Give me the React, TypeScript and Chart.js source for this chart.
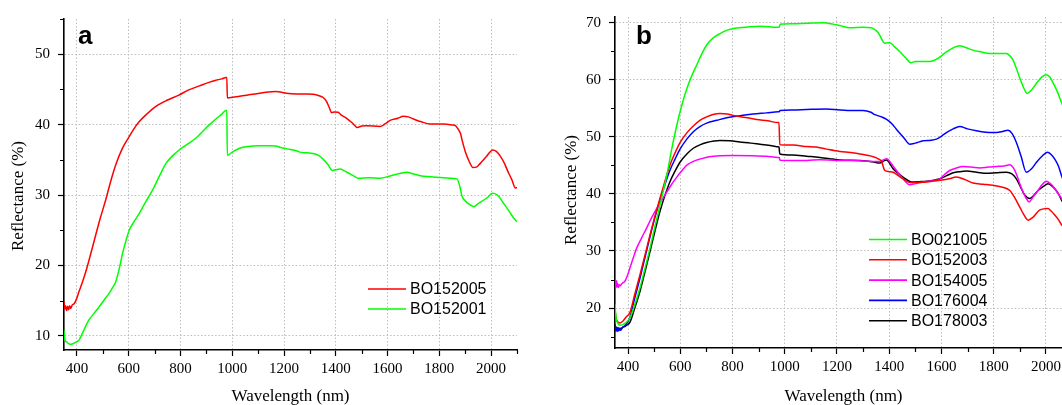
import React, { useEffect, useRef } from 'react';
import { Chart, registerables } from 'chart.js';

Chart.register(...registerables);

const SERIF = "'Liberation Serif', 'Times New Roman', serif";
const SANS = "'Liberation Sans', Arial, sans-serif";

// ---------- axis ticks ----------
const xTickValues = [400, 500, 600, 700, 800, 900, 1000, 1100, 1200, 1300, 1400, 1500, 1600, 1700, 1800, 1900, 2000, 2100];
const xTickLabels = [400, 600, 800, 1000, 1200, 1400, 1600, 1800, 2000];
const yTickValuesA = [10, 15, 20, 25, 30, 35, 40, 45, 50, 55];
const yTickLabelsA = [10, 20, 30, 40, 50];
const yTickValuesB = [15, 20, 25, 30, 35, 40, 45, 50, 55, 60, 65, 70];
const yTickLabelsB = [20, 30, 40, 50, 60, 70];

// ---------- panel a ----------
const namesA = ['BO152005', 'BO152001'];
const colorsA = ['#ff0000', '#00ff00'];

const wlA1 = [350, 353, 356, 360, 364, 368, 372, 376, 382, 390, 400, 408, 420, 434, 450, 473, 490, 511, 530, 550, 575, 602, 620, 640, 670, 705, 750, 794, 830, 873, 910, 937, 960, 976, 979, 981, 1002, 1040, 1080, 1130, 1170, 1190, 1209, 1248, 1290, 1312, 1335, 1351, 1364, 1375, 1384, 1395, 1409, 1420, 1442, 1465, 1483, 1500, 1519, 1571, 1590, 1610, 1640, 1661, 1680, 1700, 1730, 1765, 1817, 1850, 1862, 1872, 1881, 1890, 1900, 1915, 1930, 1945, 1958, 1980, 2007, 2020, 2036, 2050, 2068, 2080, 2094, 2100];
const refA1 = [14.9, 13.8, 14.3, 13.6, 14.2, 13.7, 14.3, 13.9, 14.4, 14.6, 15.4, 16.3, 17.5, 19.1, 21.2, 24.4, 26.7, 29.3, 31.9, 34.3, 36.6, 38.3, 39.4, 40.4, 41.5, 42.6, 43.5, 44.2, 44.9, 45.5, 46.0, 46.3, 46.5, 46.7, 46.7, 43.8, 43.9, 44.1, 44.3, 44.6, 44.7, 44.6, 44.45, 44.35, 44.35, 44.3, 44.1, 43.85, 43.3, 42.4, 41.7, 41.8, 41.75, 41.4, 40.9, 40.2, 39.6, 39.8, 39.85, 39.75, 40.1, 40.6, 40.9, 41.2, 41.1, 40.8, 40.4, 40.1, 40.1, 39.95, 39.85, 39.4, 38.8, 37.5, 36.2, 34.8, 33.9, 34.0, 34.5, 35.4, 36.4, 36.2, 35.5, 34.6, 33.1, 32.2, 31.0, 31.1];

const wlA2 = [350, 352, 355, 358, 362, 367, 372, 377, 382, 390, 400, 408, 420, 447, 466, 486, 505, 524, 540, 550, 565, 576, 590, 602, 620, 641, 665, 692, 720, 744, 770, 795, 830, 860, 890, 912, 940, 960, 976, 979, 981, 1000, 1028, 1060, 1106, 1140, 1170, 1183, 1220, 1248, 1261, 1290, 1312, 1335, 1351, 1370, 1386, 1400, 1416, 1435, 1455, 1470, 1487, 1530, 1571, 1600, 1623, 1650, 1674, 1700, 1726, 1765, 1804, 1840, 1868, 1878, 1888, 1900, 1915, 1933, 1950, 1972, 1990, 2004, 2015, 2030, 2045, 2062, 2075, 2090, 2100];
const refA2 = [10.8, 9.8, 9.3, 9.2, 9.1, 8.9, 8.85, 8.8, 8.85, 9.0, 9.2, 9.4, 10.3, 12.3, 13.2, 14.15, 15.1, 16.05, 17.0, 17.7, 19.8, 21.7, 23.6, 25.0, 26.2, 27.4, 29.0, 30.7, 32.8, 34.5, 35.6, 36.4, 37.3, 38.1, 39.2, 40.0, 40.9, 41.5, 42.0, 42.0, 35.65, 36.1, 36.65, 36.9, 37.0, 37.0, 36.95, 36.8, 36.5, 36.3, 36.1, 36.0, 35.9, 35.6, 35.1, 34.3, 33.5, 33.6, 33.7, 33.4, 33.0, 32.7, 32.4, 32.45, 32.4, 32.6, 32.85, 33.1, 33.25, 33.0, 32.75, 32.6, 32.5, 32.4, 32.3, 31.4, 29.8, 29.2, 28.7, 28.35, 28.8, 29.3, 29.8, 30.25, 30.2, 29.8, 29.0, 28.1, 27.4, 26.6, 26.2];

// ---------- panel b ----------
const namesB = ['BO021005', 'BO152003', 'BO154005', 'BO176004', 'BO178003'];
const colorsB = ['#00ff00', '#ff0000', '#ff00ff', '#0000ff', '#000000'];

const wlB1 = [350, 352, 355, 360, 365, 370, 380, 390, 407, 425, 446, 465, 484, 503, 522, 548, 567, 586, 605, 624, 643, 663, 682, 701, 725, 752, 780, 803, 850, 905, 943, 960, 979, 983, 1030, 1084, 1147, 1185, 1211, 1249, 1300, 1330, 1345, 1355, 1364, 1375, 1383, 1395, 1402, 1420, 1441, 1462, 1482, 1500, 1517, 1555, 1587, 1600, 1619, 1645, 1670, 1690, 1721, 1750, 1785, 1820, 1849, 1862, 1874, 1887, 1900, 1915, 1928, 1945, 1964, 1985, 2002, 2015, 2028, 2045, 2060, 2080, 2100];
const refB1 = [20.7, 19.2, 18.0, 17.4, 17.1, 17.0, 17.1, 17.4, 18.3, 20.5, 23.6, 27.0, 30.5, 34.3, 38.0, 43.2, 47.8, 51.9, 55.4, 58.3, 60.6, 62.6, 64.5, 66.1, 67.3, 68.1, 68.7, 69.0, 69.2, 69.4, 69.3, 69.2, 69.2, 69.75, 69.8, 69.9, 70.0, 69.75, 69.5, 69.1, 69.2, 69.1, 68.8, 68.4, 67.8, 66.8, 66.4, 66.5, 66.5, 65.8, 64.9, 63.9, 63.0, 63.2, 63.2, 63.2, 63.75, 64.2, 64.9, 65.6, 65.95, 65.7, 65.2, 64.9, 64.6, 64.6, 64.6, 64.2, 63.5, 62.0, 60.3, 58.6, 57.6, 58.2, 59.4, 60.5, 60.9, 60.5, 59.4, 57.8, 56.0, 53.8, 52.0];

const wlB2 = [350, 353, 357, 362, 370, 380, 392, 407, 425, 446, 465, 484, 503, 522, 541, 560, 580, 599, 625, 650, 675, 701, 725, 752, 780, 803, 850, 892, 935, 975, 978, 981, 1032, 1084, 1120, 1160, 1211, 1250, 1288, 1339, 1360, 1371, 1377, 1383, 1400, 1415, 1435, 1453, 1479, 1510, 1543, 1594, 1625, 1658, 1690, 1721, 1760, 1798, 1830, 1862, 1880, 1900, 1915, 1932, 1950, 1977, 2008, 2020, 2034, 2048, 2060, 2080, 2100];
const refB2 = [19.8, 18.5, 17.8, 17.5, 17.4, 17.7, 18.4, 19.2, 22.3, 25.9, 29.3, 32.8, 36.1, 39.2, 42.2, 45.0, 47.2, 49.0, 50.7, 51.9, 52.9, 53.5, 53.9, 54.1, 54.0, 53.75, 53.4, 53.05, 52.8, 52.5, 52.5, 48.6, 48.55, 48.3, 48.2, 47.85, 47.45, 47.25, 47.0, 46.5, 46.1, 45.7, 44.8, 44.1, 43.9, 43.8, 43.2, 42.65, 42.0, 42.05, 42.1, 42.4, 42.6, 42.95, 42.5, 41.9, 41.7, 41.5, 41.2, 40.6, 39.4, 37.7, 36.4, 35.4, 35.9, 37.2, 37.45, 37.0, 36.3, 35.5, 34.6, 33.6, 32.8];

const wlB3 = [350, 352, 354, 356, 358, 360, 363, 366, 370, 375, 380, 388, 397, 407, 420, 433, 452, 471, 490, 510, 529, 548, 567, 586, 605, 624, 650, 675, 710, 752, 800, 879, 930, 975, 979, 982, 1084, 1135, 1198, 1262, 1339, 1365, 1383, 1390, 1396, 1410, 1428, 1450, 1479, 1500, 1530, 1565, 1594, 1612, 1632, 1655, 1683, 1715, 1747, 1780, 1811, 1840, 1862, 1875, 1887, 1900, 1913, 1925, 1936, 1950, 1970, 1985, 2002, 2015, 2028, 2045, 2060, 2080, 2100];
const refB3 = [25.3, 24.2, 23.6, 24.8, 23.7, 24.3, 23.6, 24.1, 23.9, 24.2, 24.4, 24.7, 25.6, 27.0, 28.8, 30.5, 32.3, 34.0, 35.8, 37.45, 38.9, 40.3, 41.7, 42.9, 44.0, 45.0, 45.7, 46.1, 46.5, 46.7, 46.75, 46.7, 46.6, 46.4, 46.4, 45.9, 45.85, 46.0, 45.85, 45.85, 45.7, 45.7, 46.1, 46.15, 46.0, 45.2, 44.1, 42.8, 41.6, 41.8, 42.1, 42.3, 42.65, 43.4, 44.1, 44.5, 44.8, 44.7, 44.55, 44.7, 44.8, 44.9, 45.1, 44.6, 43.5, 41.8, 40.3, 39.2, 38.6, 39.4, 40.6, 41.6, 42.2, 41.9, 41.3, 40.2, 39.2, 37.9, 36.8];

const wlB4 = [350, 352, 355, 358, 361, 364, 368, 372, 377, 385, 395, 407, 425, 446, 465, 484, 503, 522, 541, 560, 580, 599, 625, 650, 675, 701, 740, 778, 830, 879, 930, 975, 979, 982, 1030, 1084, 1160, 1211, 1260, 1300, 1330, 1345, 1370, 1390, 1410, 1428, 1455, 1479, 1500, 1530, 1560, 1581, 1600, 1619, 1645, 1670, 1700, 1734, 1770, 1798, 1830, 1855, 1870, 1887, 1905, 1925, 1945, 1964, 1985, 2006, 2020, 2034, 2048, 2060, 2080, 2100];
const refB4 = [17.2, 16.0, 16.6, 15.9, 16.5, 16.0, 16.4, 16.1, 16.5, 16.8, 17.3, 18.4, 21.6, 25.3, 28.9, 32.5, 35.9, 38.9, 41.6, 44.1, 46.1, 47.85, 49.6, 50.9, 51.8, 52.4, 52.9, 53.35, 53.7, 54.0, 54.2, 54.4, 54.4, 54.6, 54.7, 54.8, 54.9, 54.7, 54.6, 54.6, 54.3, 53.9, 53.5, 53.05, 52.3, 51.3, 49.9, 48.7, 48.9, 49.3, 49.4, 49.6, 50.1, 50.75, 51.4, 51.8, 51.4, 51.05, 50.8, 50.75, 50.9, 51.15, 50.6, 49.0, 46.6, 43.8, 44.4, 45.55, 46.6, 47.3, 46.9, 46.1, 44.9, 43.2, 40.8, 38.8];

const wlB5 = [350, 352, 355, 358, 361, 365, 369, 373, 378, 385, 395, 407, 425, 446, 465, 484, 503, 522, 541, 560, 580, 599, 625, 650, 675, 701, 752, 790, 828, 870, 905, 950, 975, 978, 981, 1030, 1084, 1135, 1185, 1211, 1288, 1340, 1364, 1380, 1390, 1400, 1415, 1435, 1453, 1486, 1515, 1543, 1570, 1594, 1620, 1645, 1670, 1696, 1735, 1773, 1810, 1849, 1870, 1887, 1903, 1919, 1938, 1955, 1970, 1990, 2008, 2020, 2034, 2048, 2060, 2080, 2100];
const refB5 = [17.0, 16.2, 16.7, 16.0, 16.6, 16.1, 16.5, 16.2, 16.6, 16.7, 17.0, 17.5, 19.9, 23.0, 26.4, 29.9, 33.5, 36.9, 39.7, 42.1, 44.0, 45.55, 47.0, 48.0, 48.6, 49.0, 49.35, 49.3, 49.1, 48.9, 48.7, 48.45, 48.25, 48.2, 47.0, 46.8, 46.6, 46.4, 46.1, 45.95, 45.85, 45.6, 45.4, 45.8, 45.95, 45.5, 44.4, 43.6, 42.95, 42.1, 42.15, 42.2, 42.4, 42.65, 43.2, 43.7, 43.9, 44.0, 43.8, 43.6, 43.7, 43.8, 43.5, 42.65, 41.2, 39.8, 39.2, 39.8, 40.6, 41.3, 41.8, 41.5, 40.9, 40.0, 38.9, 37.4, 36.2];

type Series = { name: string; color: string; wl: number[]; refl: number[] };

const seriesA: Series[] = [
  { name: namesA[0], color: colorsA[0], wl: wlA1, refl: refA1 },
  { name: namesA[1], color: colorsA[1], wl: wlA2, refl: refA2 },
];
const seriesB: Series[] = [
  { name: namesB[0], color: colorsB[0], wl: wlB1, refl: refB1 },
  { name: namesB[1], color: colorsB[1], wl: wlB2, refl: refB2 },
  { name: namesB[2], color: colorsB[2], wl: wlB3, refl: refB3 },
  { name: namesB[3], color: colorsB[3], wl: wlB4, refl: refB4 },
  { name: namesB[4], color: colorsB[4], wl: wlB5, refl: refB5 },
];

type PanelSpec = {
  letter: string;
  series: Series[];
  yMin: number;
  yMax: number;
  yTicks: number[];
  yLabels: number[];
  canvasWidth: number;
  padTop: number;
  padRight: number;
  yAxisWidth: number;
  xAxisHeight: number;
  letterX: number;
  letterY: number;
  yTitleX: number;
  yTitleY: number;
  legendX: number;
  legendY: number;
  legendGap: number;
};

const panelA: PanelSpec = {
  letter: 'a', series: seriesA, yMin: 8, yMax: 55, yTicks: yTickValuesA, yLabels: yTickLabelsA,
  canvasWidth: 540, padTop: 19, padRight: 23, yAxisWidth: 64, xAxisHeight: 55,
  letterX: 78, letterY: 43.5, yTitleX: 18.5, yTitleY: 196,
  legendX: 368, legendY: 289, legendGap: 20,
};

const panelB: PanelSpec = {
  letter: 'b', series: seriesB, yMin: 13, yMax: 71, yTicks: yTickValuesB, yLabels: yTickLabelsB,
  canvasWidth: 560, padTop: 13, padRight: 28, yAxisWidth: 75, xAxisHeight: 57,
  letterX: 96, letterY: 44, yTitleX: 32, yTitleY: 190,
  legendX: 329, legendY: 239.5, legendGap: 20.3,
};

function overlayPlugin(p: PanelSpec) {
  return {
    id: 'overlay' + p.letter,
    afterDraw(chart: any) {
      const ctx = chart.ctx as CanvasRenderingContext2D;
      const area = chart.chartArea;
      const xs = chart.scales.x;
      const ys = chart.scales.y;
      ctx.save();

      // minor (unlabelled) tick marks, shorter than the major ones
      ctx.strokeStyle = '#000';
      ctx.lineWidth = 1.2;
      ctx.beginPath();
      xTickValues.forEach((v) => {
        if (xTickLabels.includes(v)) return;
        const px = Math.round(xs.getPixelForValue(v)) + 0.5;
        ctx.moveTo(px, area.bottom);
        ctx.lineTo(px, area.bottom + 4);
      });
      p.yTicks.forEach((v) => {
        if (p.yLabels.includes(v)) return;
        const py = Math.round(ys.getPixelForValue(v)) + 0.5;
        ctx.moveTo(area.left, py);
        ctx.lineTo(area.left - 4, py);
      });
      ctx.stroke();

      ctx.fillStyle = '#000';
      ctx.font = `bold 26px ${SANS}`;
      ctx.textAlign = 'left';
      ctx.textBaseline = 'alphabetic';
      ctx.fillText(p.letter, p.letterX, p.letterY);

      ctx.font = `17px ${SERIF}`;
      ctx.save();
      ctx.translate(p.yTitleX, p.yTitleY);
      ctx.rotate(-Math.PI / 2);
      ctx.textAlign = 'center';
      ctx.textBaseline = 'middle';
      ctx.fillText('Reflectance (%)', 0, 0);
      ctx.restore();

      ctx.textAlign = 'center';
      ctx.textBaseline = 'alphabetic';
      ctx.fillText('Wavelength (nm)', (area.left + area.right) / 2, 401);

      ctx.font = `16px ${SANS}`;
      ctx.textAlign = 'left';
      ctx.textBaseline = 'middle';
      chart.data.datasets.forEach((ds: any, i: number) => {
        const y = p.legendY + i * p.legendGap;
        ctx.strokeStyle = ds.borderColor;
        ctx.lineWidth = 1.6;
        ctx.beginPath();
        ctx.moveTo(p.legendX, y);
        ctx.lineTo(p.legendX + 38, y);
        ctx.stroke();
        ctx.fillStyle = '#000';
        ctx.fillText(ds.label, p.legendX + 42, y + 1);
      });
      ctx.restore();
    },
  };
}

function buildConfig(p: PanelSpec): any {
  const gridColor = (labels: number[]) => (c: any) =>
    c.tick && labels.includes(c.tick.value) ? '#bdbdbd' : 'rgba(0,0,0,0)';
  const tickColor = (labels: number[]) => (c: any) =>
    c.tick && labels.includes(c.tick.value) ? '#000' : 'rgba(0,0,0,0)';
  return {
    type: 'line',
    data: {
      datasets: p.series.map((s) => ({
        label: s.name,
        data: s.wl.map((x, i) => ({ x, y: s.refl[i] })),
        borderColor: s.color,
        backgroundColor: s.color,
        borderWidth: 1.5,
        pointRadius: 0,
        cubicInterpolationMode: 'monotone',
        fill: false,
      })),
    },
    options: {
      animation: false,
      responsive: false,
      devicePixelRatio: 1,
      layout: { padding: { top: p.padTop, right: p.padRight, bottom: 0, left: 0 } },
      plugins: { legend: { display: false }, tooltip: { enabled: false } },
      scales: {
        x: {
          type: 'linear',
          min: 350,
          max: 2100,
          afterBuildTicks: (scale: any) => {
            scale.ticks = xTickValues.map((v) => ({ value: v }));
          },
          afterFit: (scale: any) => {
            scale.height = p.xAxisHeight;
          },
          ticks: {
            autoSkip: false,
            maxRotation: 0,
            padding: 4,
            color: '#000',
            font: { family: SERIF, size: 15 },
            callback: (v: any) => (xTickLabels.includes(Number(v)) ? String(v) : ''),
          },
          grid: {
            color: gridColor(xTickLabels),
            lineWidth: 1,
            tickColor: tickColor(xTickLabels),
            tickLength: 6,
            tickWidth: 1.2,
            tickBorderDash: [],
          },
          border: { display: true, color: '#000', width: 1.6, dash: [1.5, 2] },
        },
        y: {
          type: 'linear',
          min: p.yMin,
          max: p.yMax,
          afterBuildTicks: (scale: any) => {
            scale.ticks = p.yTicks.map((v) => ({ value: v }));
          },
          afterFit: (scale: any) => {
            scale.width = p.yAxisWidth;
          },
          ticks: {
            autoSkip: false,
            padding: 8,
            color: '#000',
            font: { family: SERIF, size: 15 },
            callback: (v: any) => (p.yLabels.includes(Number(v)) ? String(v) : ''),
          },
          grid: {
            color: gridColor(p.yLabels),
            lineWidth: 1,
            tickColor: tickColor(p.yLabels),
            tickLength: 6,
            tickWidth: 1.2,
            tickBorderDash: [],
          },
          border: { display: true, color: '#000', width: 1.6, dash: [1.5, 2] },
        },
      },
    },
    plugins: [overlayPlugin(p)],
  };
}

function Panel({ spec, left }: { spec: PanelSpec; left: number }) {
  const ref = useRef<HTMLCanvasElement>(null);
  useEffect(() => {
    if (!ref.current) return;
    const chart = new Chart(ref.current, buildConfig(spec));
    return () => chart.destroy();
  }, [spec]);
  return (
    <canvas
      ref={ref}
      width={spec.canvasWidth}
      height={405}
      style={{ position: 'absolute', left, top: 0, width: spec.canvasWidth, height: 405 }}
    />
  );
}

export default function App() {
  return (
    <div
      style={{
        position: 'fixed',
        left: 0,
        top: 0,
        width: 1062,
        height: 405,
        overflow: 'hidden',
        background: '#fff',
      }}
    >
      <Panel spec={panelA} left={0} />
      <Panel spec={panelB} left={540} />
    </div>
  );
}
